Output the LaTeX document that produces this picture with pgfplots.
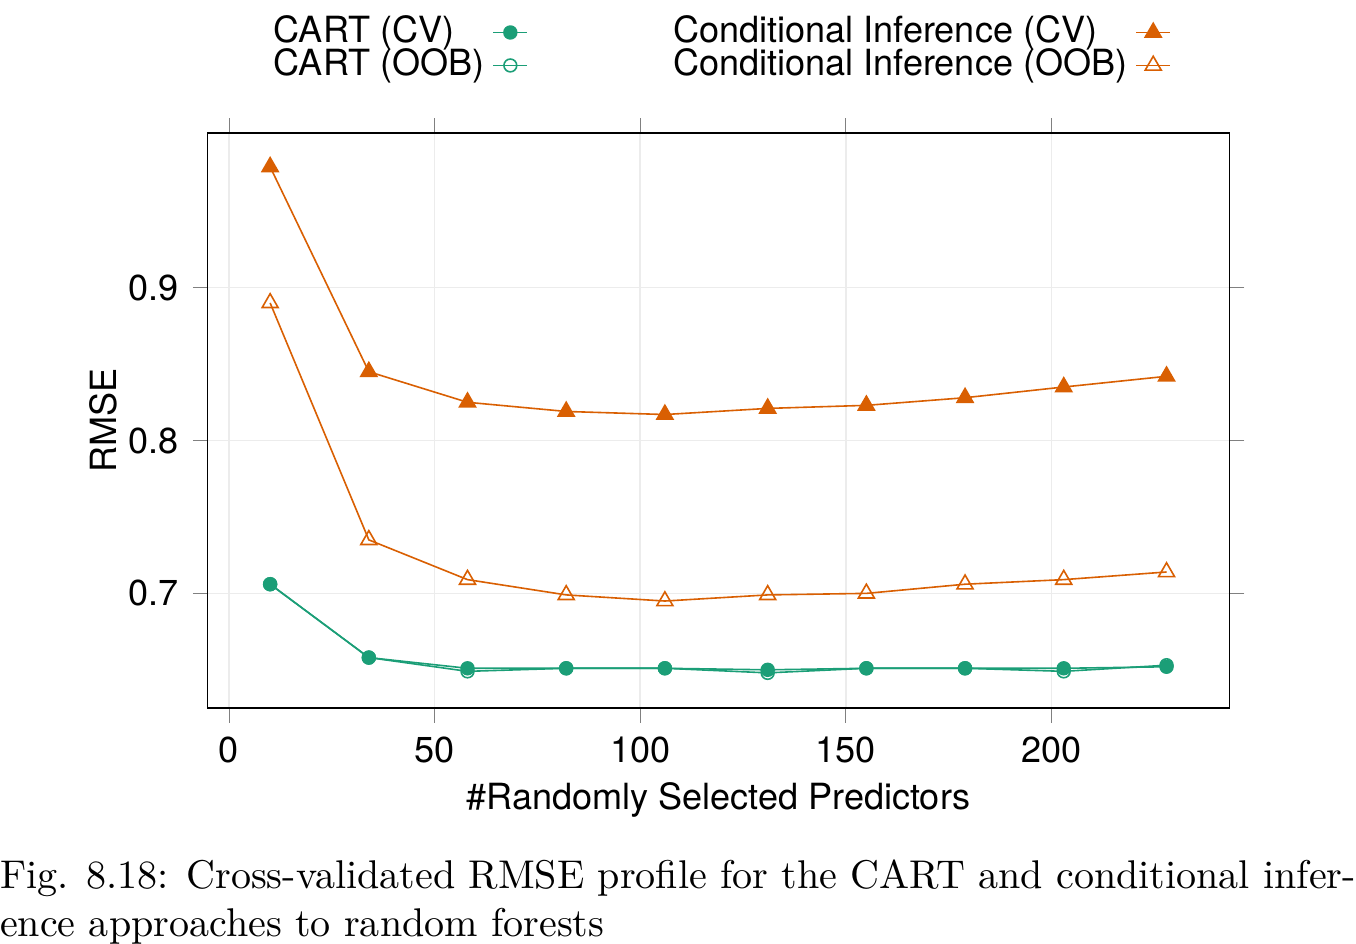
\documentclass[border=0pt]{standalone}
\usepackage{pgfplots}
\pgfplotsset{compat=1.18}
\usepackage{fontspec}
\newfontfamily\hv{TeX Gyre Heros}
\definecolor{cg}{HTML}{1B9E77}
\definecolor{co}{HTML}{D95F02}
\begin{document}
\begin{tikzpicture}
\begin{axis}[
  width=8.96cm, height=5.04cm, scale only axis,
  xmin=-5.2, xmax=243.3, ymin=0.625, ymax=1.001,
  xtick={0,50,100,150,200}, ytick={0.7,0.8,0.9},
  yticklabel style={/pgf/number format/fixed,/pgf/number format/precision=1},
  /pgf/number format/assume math mode=true,
  tick align=outside, major tick length=0.13cm,
  xtick pos=both, ytick pos=both,
  xticklabel pos=bottom, yticklabel pos=left,
  grid=major, grid style={gray!15},
  font=\hv\small,
  xlabel={\#Randomly Selected Predictors}, ylabel={RMSE},
  xlabel style={yshift=2pt}, ylabel style={yshift=-4pt},
  clip=false,
  legend columns=2,
  legend style={at={(0.5,1.06)},anchor=south,draw=none,fill=none,font=\hv\small,
    /tikz/every even column/.style={column sep=1.2cm}, row sep=-4pt},
  legend cell align=left, legend plot pos=right,
  legend image code/.code={\draw[mark repeat=2,mark phase=2] plot coordinates {(0cm,0cm)(0.15cm,0cm)(0.3cm,0cm)};},
]
\addplot[cg, thin, mark=*, mark size=1.6pt, mark options={solid}] coordinates {(10,0.706)(34,0.658)(58,0.651)(82,0.651)(106,0.651)(131,0.650)(155,0.651)(179,0.651)(203,0.651)(228,0.652)};
\addlegendentry{CART (CV)}
\addplot[co, thin, mark=triangle*, mark size=2.3pt] coordinates {(10,0.979)(34,0.845)(58,0.825)(82,0.819)(106,0.817)(131,0.821)(155,0.823)(179,0.828)(203,0.835)(228,0.842)};
\addlegendentry{Conditional Inference (CV)}
\addplot[cg, thin, mark=o, mark size=1.6pt] coordinates {(10,0.706)(34,0.658)(58,0.649)(82,0.651)(106,0.651)(131,0.648)(155,0.651)(179,0.651)(203,0.649)(228,0.653)};
\addlegendentry{CART (OOB)}
\addplot[co, thin, mark=triangle, mark size=2.3pt] coordinates {(10,0.890)(34,0.735)(58,0.709)(82,0.699)(106,0.695)(131,0.699)(155,0.700)(179,0.706)(203,0.709)(228,0.714)};
\addlegendentry{Conditional Inference (OOB)}
\node[anchor=north west, inner sep=0pt, align=left, font=\rmfamily\normalsize] at (rel axis cs:-0.204,-0.262)
  {Fig. 8.18: Cross-validated RMSE profile for the CART and conditional infer-\\ence approaches to random forests};
\end{axis}
\end{tikzpicture}
\end{document}
